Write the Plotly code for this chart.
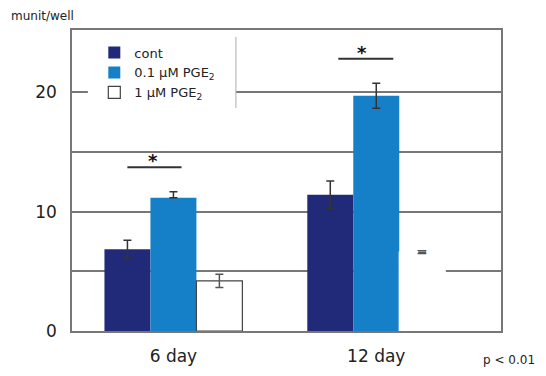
import plotly.graph_objects as go

# ---- data ----
days = ["6 day", "12 day"]
day_pos = [0, 1]
cont = [6.85, 11.4]
cont_err = [0.75, 1.15]
pge_01 = [11.15, 19.7]
pge_01_err_plus = [0.5, 1.05]
pge_01_err_minus = [0.0, 1.05]
pge_1 = [4.2, 6.6]
pge_1_err = [0.55, 0.0]
y_tick_vals = [0, 10, 20]
y_tick_text = ["0", "10", "20"]
y_minor_grid = [5, 15]

NAVY = "#212a78"
BLUE = "#1580c8"
GRID = "#777777"
FONT = "DejaVu Sans, Liberation Sans, Arial, sans-serif"

fig = go.Figure()
fig.add_trace(go.Bar(
    x=day_pos, y=cont, name="cont",
    marker=dict(color=NAVY, line=dict(width=0)),
    error_y=dict(type="data", array=cont_err, color="#333333", thickness=1.5, width=4),
))
fig.add_trace(go.Bar(
    x=day_pos, y=pge_01, name="0.1 µM PGE<sub>2</sub>",
    marker=dict(color=BLUE, line=dict(width=0)),
    error_y=dict(type="data", array=pge_01_err_plus, arrayminus=pge_01_err_minus,
                 color="#333333", thickness=1.5, width=4),
))
fig.add_trace(go.Bar(
    x=day_pos, y=pge_1, name="1 µM PGE<sub>2</sub>",
    marker=dict(color="white", line=dict(width=1.2, color=["#444444", "white"])),
    error_y=dict(type="data", array=pge_1_err, color="#555555", thickness=1.5, width=4),
))

# page body has an 8px margin on every side; keep the figure inside the window
fig.update_layout(
    width=530, height=360,
    margin=dict(l=64, r=37, t=22, b=37),
    paper_bgcolor="white", plot_bgcolor="white",
    barmode="group", bargap=0.32, bargroupgap=0,
    font=dict(family=FONT, color="#222222"),
    showlegend=True,
    legend=dict(
        x=0.052, y=0.975, xanchor="left", yanchor="top",
        bgcolor="rgba(0,0,0,0)", borderwidth=0,
        font=dict(size=13, family=FONT, color="#222222"),
        tracegroupgap=0, itemwidth=30,
    ),
    xaxis=dict(
        range=[-0.5, 1.615], automargin=False,
        tickvals=day_pos, ticktext=days,
        tickfont=dict(size=17, family=FONT, color="#222222"),
        showgrid=False, zeroline=False,
        showline=True, linecolor=GRID, linewidth=1.5, mirror=True,
        ticks="", ticklabelstandoff=9,
    ),
    yaxis=dict(
        range=[0, 25.2], automargin=False,
        tickvals=y_tick_vals, ticktext=y_tick_text,
        tickfont=dict(size=17, family=FONT, color="#222222"),
        showgrid=True, gridcolor=GRID, gridwidth=1.5,
        minor=dict(tickvals=y_minor_grid, showgrid=True, gridcolor=GRID,
                   gridwidth=1.5, ticks=""),
        zeroline=False,
        showline=True, linecolor=GRID, linewidth=1.5, mirror=True,
        ticks="", ticklabelstandoff=10,
    ),
)

# legend background covering the grid line + right border line
fig.add_shape(type="rect", xref="paper", yref="paper",
              x0=0.037, x1=0.382, y0=0.741, y1=0.977,
              fillcolor="white", line=dict(width=0), layer="above")
fig.add_shape(type="line", xref="paper", yref="paper",
              x0=0.382, x1=0.382, y0=0.741, y1=0.977,
              line=dict(color="#bbbbbb", width=1.2), layer="above")

# significance markers
fig.add_shape(type="line", x0=-0.227, x1=0.04, y0=13.7, y1=13.7,
              line=dict(color="#333333", width=2))
fig.add_annotation(x=-0.1, y=13.7, text="<b>*</b>", showarrow=False,
                   yanchor="bottom", yshift=-6, font=dict(size=18, color="#111111"))
fig.add_shape(type="line", x0=0.813, x1=1.084, y0=22.8, y1=22.8,
              line=dict(color="#333333", width=2))
fig.add_annotation(x=0.93, y=22.8, text="<b>*</b>", showarrow=False,
                   yanchor="bottom", yshift=-6, font=dict(size=18, color="#111111"))

# "=" mark
fig.add_annotation(x=1.227, y=6.6, text="=", showarrow=False,
                   font=dict(size=14, color="#555555"))

# axis unit label
fig.add_annotation(xref="paper", yref="paper", x=-0.147, y=1.047,
                   xanchor="left", yanchor="middle", text="munit/well",
                   showarrow=False, font=dict(size=12, color="#222222"))
# p value note
fig.add_annotation(xref="paper", yref="paper", x=1.083, y=-0.098,
                   xanchor="right", yanchor="middle", text="p &lt; 0.01",
                   showarrow=False, font=dict(size=12, color="#222222"))

fig.write_html("out.html")
